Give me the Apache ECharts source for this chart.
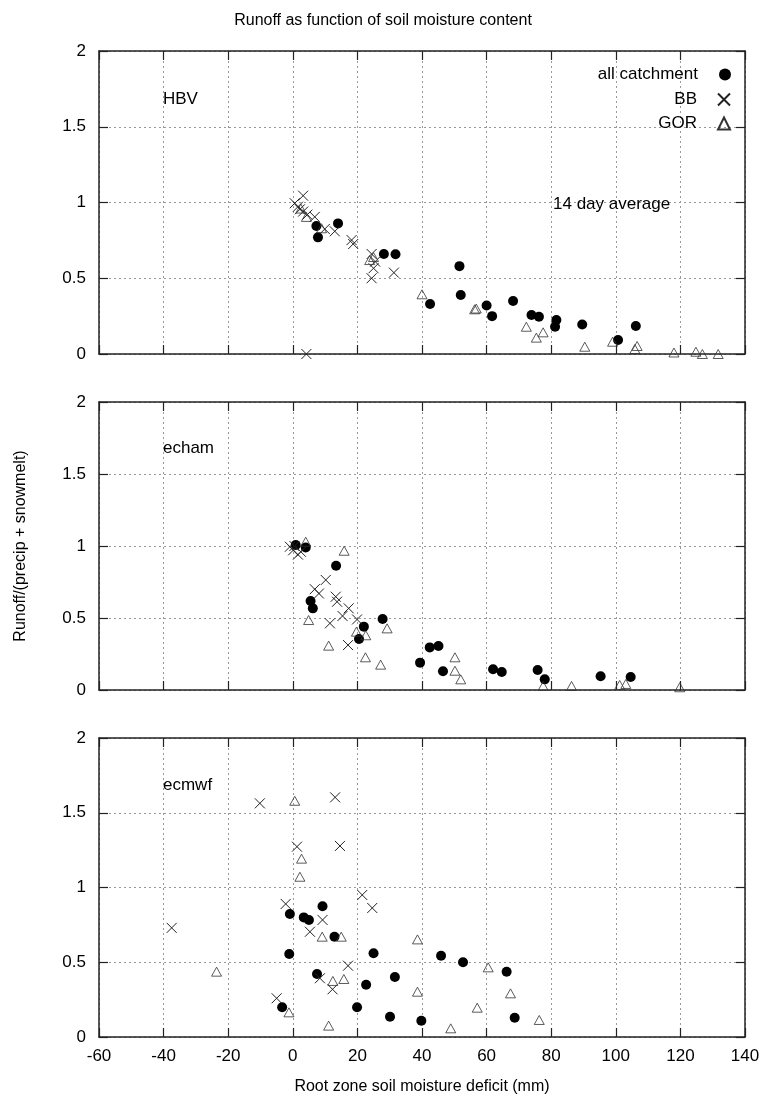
<!DOCTYPE html>
<html>
<head>
<meta charset="utf-8">
<script src="https://cdn.jsdelivr.net/npm/echarts@6/dist/echarts.min.js"></script>
<style>
html, body { margin: 0; padding: 0; background: #fff; }
#main { width: 766px; height: 1102px; }
</style>
</head>
<body>
<div id="main"></div>
<script>
// x ticks / y ticks
var xTicks = [-60, -40, -20, 0, 20, 40, 60, 80, 100, 120, 140];
var yTicks = [0, 0.5, 1, 1.5, 2];
var panelNames = ['HBV', 'echam', 'ecmwf'];

// HBV panel
var hbvAll = [[7.3,0.845],[7.8,0.77],[14,0.862],[28.2,0.66],[31.8,0.658],[42.5,0.33],[51.6,0.58],[52,0.39],[60,0.32],[61.7,0.25],[68.2,0.35],[73.9,0.257],[76.2,0.246],[81.6,0.224],[81.2,0.18],[89.6,0.195],[100.7,0.092],[106.2,0.185]];
var hbvBB = [[3.2,1.045],[0.6,0.995],[1.6,0.972],[2.2,0.955],[3.2,0.94],[4.5,0.92],[6.8,0.905],[9.9,0.825],[13,0.81],[18.2,0.752],[18.7,0.726],[24.4,0.66],[25.5,0.61],[25,0.566],[24.4,0.5],[31.3,0.537],[4.2,0.0]];
var hbvGOR = [[2.5,0.96],[4.2,0.905],[8.9,0.83],[23.8,0.62],[25,0.64],[40,0.394],[56.3,0.295],[56.8,0.30],[72.3,0.18],[75.4,0.108],[77.5,0.143],[90.4,0.048],[99,0.081],[105.9,0.033],[106.6,0.053],[118,0.01],[124.8,0.015],[126.8,0.0],[131.7,0.0]];

// echam panel
var echamAll = [[0.9,1.007],[4,0.99],[13.4,0.863],[5.5,0.618],[6.2,0.567],[27.8,0.493],[22,0.44],[20.5,0.354],[39.4,0.19],[42.4,0.296],[45.1,0.305],[46.5,0.13],[62,0.144],[64.7,0.125],[75.8,0.139],[78,0.074],[95.3,0.095],[104.6,0.09]];
var echamBB = [[-0.9,0.995],[0.1,0.97],[1.6,0.94],[0.5,1.0],[2.5,0.96],[10.2,0.764],[6.8,0.7],[8.1,0.67],[13.3,0.648],[13.7,0.613],[17.3,0.567],[15.4,0.514],[19.9,0.49],[11.5,0.463],[17.1,0.312]];
var echamGOR = [[4,1.03],[15.9,0.967],[4.9,0.486],[29.2,0.428],[19.7,0.405],[22.6,0.38],[11.1,0.308],[22.5,0.227],[27.2,0.176],[50.2,0.227],[50.2,0.134],[52,0.074],[77.5,0.028],[86.3,0.028],[101.2,0.035],[103.1,0.042],[119.8,0.019]];

// ecmwf panel
var ecmwfAll = [[-0.9,0.823],[3.4,0.8],[5,0.783],[9.2,0.874],[12.9,0.671],[-1.1,0.555],[25,0.56],[45.9,0.544],[7.5,0.421],[22.7,0.35],[31.6,0.401],[-3.3,0.199],[19.9,0.199],[30.1,0.136],[39.8,0.109],[52.7,0.5],[66.2,0.437],[68.7,0.129]];
var ecmwfBB = [[-10.2,1.563],[13.1,1.603],[1.3,1.273],[14.6,1.278],[21.5,0.95],[24.6,0.863],[-2.2,0.89],[9.2,0.783],[5.3,0.704],[17.1,0.477],[8.4,0.393],[12.3,0.319],[-5,0.259],[-37.5,0.73]];
var ecmwfGOR = [[0.6,1.58],[2.7,1.193],[2.2,1.072],[9.1,0.671],[15,0.671],[38.6,0.653],[-23.6,0.437],[12.4,0.375],[15.8,0.388],[38.6,0.303],[-1.2,0.165],[11.1,0.076],[60.5,0.466],[67.4,0.292],[57.1,0.196],[48.9,0.058],[76.3,0.114]];

var panelData = [
	[hbvAll, hbvBB, hbvGOR],
	[echamAll, echamBB, echamGOR],
	[ecmwfAll, ecmwfBB, ecmwfGOR]
];

var FONT = '"Liberation Sans", Arial, Helvetica, sans-serif';
var crossPath = 'path://M0,0L10,10M10,0L0,10';
var grids = [
	{left: 99, right: 21, top: 51, height: 303},
	{left: 99, right: 21, top: 402, height: 288},
	{left: 99, right: 21, top: 738, height: 299}
];

var myChart = echarts.init(document.getElementById('main'));

var xAxes = [], yAxes = [], series = [];
var tickStyle = {show: true, inside: true, length: 9, lineStyle: {color: '#222', width: 1.2}};
var lineStyle = {show: true, onZero: false, lineStyle: {color: '#222', width: 1.5}};
var dotted = {show: true, lineStyle: {color: '#999', width: 1, type: [2, 3]}};

for (var i = 0; i < 3; i++) {
	// bottom x
	xAxes.push({
		type: 'value', gridIndex: i, position: 'bottom',
		min: xTicks[0], max: xTicks[xTicks.length - 1], interval: 20,
		axisLine: lineStyle, axisTick: tickStyle, splitLine: dotted,
		axisLabel: {show: i == 2, color: '#000', fontSize: 17, fontFamily: FONT, margin: 11},
		name: i == 2 ? 'Root zone soil moisture deficit (mm)' : '',
		nameLocation: 'middle', nameGap: 42,
		nameTextStyle: {color: '#000', fontSize: 16, fontFamily: FONT}
	});
	// top x
	xAxes.push({
		type: 'value', gridIndex: i, position: 'top',
		min: xTicks[0], max: xTicks[xTicks.length - 1], interval: 20,
		axisLine: lineStyle, axisTick: tickStyle, splitLine: {show: false},
		axisLabel: {show: false}
	});
	yAxes.push({
		type: 'value', gridIndex: i, position: 'left',
		min: yTicks[0], max: yTicks[yTicks.length - 1], interval: 0.5,
		axisLine: lineStyle, axisTick: tickStyle, splitLine: dotted,
		axisLabel: {color: '#000', fontSize: 17, fontFamily: FONT, margin: 13},
		name: i == 1 ? 'Runoff/(precip + snowmelt)' : '',
		nameLocation: 'middle', nameGap: 70,
		nameTextStyle: {color: '#000', fontSize: 16, fontFamily: FONT}
	});
	yAxes.push({
		type: 'value', gridIndex: i, position: 'right',
		min: yTicks[0], max: yTicks[yTicks.length - 1], interval: 0.5,
		axisLine: lineStyle, axisTick: tickStyle, splitLine: {show: false},
		axisLabel: {show: false}
	});

	series.push({
		name: 'all catchment', type: 'scatter', xAxisIndex: i * 2, yAxisIndex: i * 2,
		symbol: 'circle', symbolSize: 10,
		itemStyle: {color: '#000', opacity: 1},
		data: panelData[i][0]
	});
	series.push({
		name: 'BB', type: 'scatter', xAxisIndex: i * 2, yAxisIndex: i * 2,
		symbol: crossPath, symbolSize: 10,
		itemStyle: {color: 'rgba(0,0,0,0)', borderColor: '#222', borderWidth: 1, opacity: 1},
		data: panelData[i][1]
	});
	series.push({
		name: 'GOR', type: 'scatter', xAxisIndex: i * 2, yAxisIndex: i * 2,
		symbol: 'triangle', symbolSize: [10, 9],
		itemStyle: {color: 'rgba(0,0,0,0)', borderColor: '#333', borderWidth: 0.8, opacity: 1},
		data: panelData[i][2]
	});
}

var titles = [{
	text: 'Runoff as function of soil moisture content', left: 'center', top: 8,
	textStyle: {color: '#000', fontSize: 16, fontWeight: 'normal', fontFamily: FONT}
}];
var labelTops = [86, 435, 772];
for (var k = 0; k < 3; k++) {
	titles.push({
		text: panelNames[k], left: 158, top: labelTops[k],
		textStyle: {color: '#000', fontSize: 17, fontWeight: 'normal', fontFamily: FONT}
	});
}
titles.push({
	text: '14 day average', left: 548, top: 191,
	textStyle: {color: '#000', fontSize: 17, fontWeight: 'normal', fontFamily: FONT}
});

var legendNames = ['all catchment', 'BB', 'GOR'];
var legendTops = [61, 86, 110];
var legends = [];
for (var j = 0; j < 3; j++) {
	legends.push({
		data: [legendNames[j]], orient: 'vertical', align: 'right',
		right: 30, top: legendTops[j], itemWidth: 12, itemHeight: 12,
		selectedMode: false,
		textStyle: {color: '#000', fontSize: 17, fontFamily: FONT, padding: [0, 16, 0, 0]}
	});
}

var option = {
	backgroundColor: '#fff',
	animation: false,
	title: titles,
	legend: legends,
	grid: grids,
	xAxis: xAxes,
	yAxis: yAxes,
	series: series
};
myChart.setOption(option);
</script>
</body>
</html>
